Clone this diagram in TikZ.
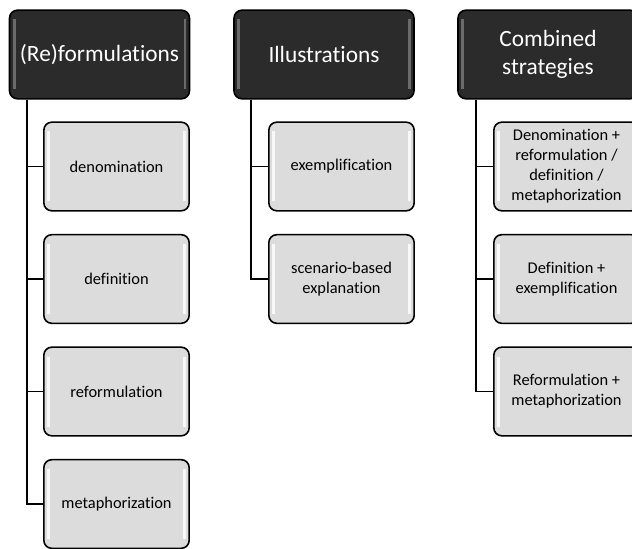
\documentclass[tikz,border=0pt]{standalone}
\usepackage{fontspec}
\setmainfont[RawFeature=-liga]{Carlito}
\usetikzlibrary{calc}
\definecolor{hdark}{HTML}{2B2B2B}
\definecolor{clight}{HTML}{DCDCDC}
\tikzset{
  x=0.75pt, y=-0.75pt,
  headbox/.style={draw=black, line width=1.2pt, fill=hdark, rounded corners=6pt,
    text=white, font=\fontsize{17.5pt}{20pt}\selectfont, align=center,
    minimum width=135pt, minimum height=66.5pt, inner sep=0pt,
    path picture={
      \fill[sharp corners, white, opacity=0.3] ($(path picture bounding box.north west)+(2.5pt,-7pt)$) rectangle ($(path picture bounding box.south west)+(4.5pt,7pt)$);
      \fill[sharp corners, white, opacity=0.3] ($(path picture bounding box.north east)+(-4.5pt,-7pt)$) rectangle ($(path picture bounding box.south east)+(-2.5pt,7pt)$);
    }},
  childbox/.style={draw=black, line width=1.2pt, fill=clight, rounded corners=6pt,
    text=black, font=\fontsize{12.3pt}{15pt}\selectfont, align=center,
    minimum width=109pt, minimum height=66.5pt, inner sep=0pt,
    path picture={
      \fill[sharp corners, white, opacity=0.8] ($(path picture bounding box.north west)+(2.5pt,-7pt)$) rectangle ($(path picture bounding box.south west)+(4.5pt,7pt)$);
      \fill[sharp corners, white, opacity=0.8] ($(path picture bounding box.north east)+(-4.5pt,-7pt)$) rectangle ($(path picture bounding box.south east)+(-2.5pt,7pt)$);
    }},
  conn/.style={draw=black, line width=1.3pt}
}
\begin{document}
\begin{tikzpicture}
\useasboundingbox (0,0) rectangle (632,549);
% headers
\node[headbox] (h1) at (99.5,54.5) {(Re)formulations};
\node[headbox] (h2) at (324,54.5) {Illustrations};
\node[headbox, font=\fontsize{17.5pt}{20.5pt}\selectfont] (h3) at (548,54.5) {Combined\\strategies};
% column 1
\node[childbox] (a1) at (116.5,166.5) {denomination};
\node[childbox] (a2) at (116.5,279) {definition};
\node[childbox] (a3) at (116.5,391.5) {reformulation};
\node[childbox] (a4) at (116.5,504) {metaphorization};
% column 2
\node[childbox] (b1) at (341.5,166.5) {exemplification};
\node[childbox] (b2) at (341.5,279) {scenario-based\\explanation};
% column 3
\node[childbox] (c1) at (566.5,166.5) {Denomination +\\reformulation /\\definition /\\metaphorization};
\node[childbox] (c2) at (566.5,279) {Definition +\\exemplification};
\node[childbox] (c3) at (566.5,391.5) {Reformulation +\\metaphorization};
% connectors
\coordinate (s1) at ($(h1.south west)+(18,0)$);
\coordinate (s2) at ($(h2.south west)+(18,0)$);
\coordinate (s3) at ($(h3.south west)+(19,0)$);
\foreach \c in {a1,a2,a3,a4} \draw[conn] (s1) |- (\c.west);
\foreach \c in {b1,b2} \draw[conn] (s2) |- (\c.west);
\foreach \c in {c1,c2,c3} \draw[conn] (s3) |- (\c.west);
\end{tikzpicture}
\end{document}
